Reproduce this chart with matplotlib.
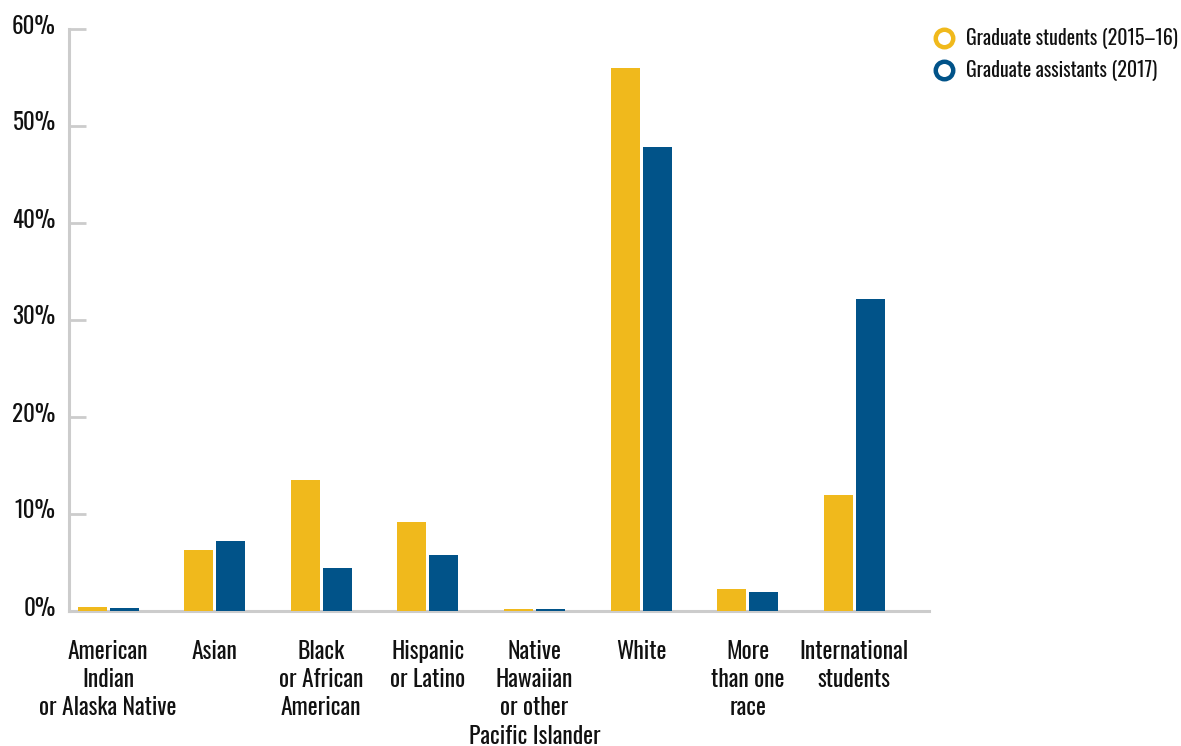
import matplotlib
matplotlib.use("Agg")
import matplotlib.pyplot as plt
from matplotlib.lines import Line2D
from matplotlib.transforms import ScaledTranslation
import numpy as np

# Share of each race/ethnicity group (%)
categories = [
    "American\nIndian\nor Alaska Native",
    "Asian",
    "Black\nor African\nAmerican",
    "Hispanic\nor Latino",
    "Native\nHawaiian\nor other\nPacific Islander",
    "White",
    "More\nthan one\nrace",
    "International\nstudents",
]
graduate_students = [0.4, 6.3, 13.5, 9.2, 0.2, 56.0, 2.3, 12.0]
graduate_assistants = [0.3, 7.2, 4.4, 5.8, 0.2, 47.8, 2.0, 32.2]
series_labels = ["Graduate students (2015\u201316)", "Graduate assistants (2017)"]
y_ticks = [0, 10, 20, 30, 40, 50, 60]
y_tick_labels = ["0%", "10%", "20%", "30%", "40%", "50%", "60%"]

GOLD = "#F0B91C"
NAVY = "#015389"
AXIS_GREY = "#CCCCCC"
TEXT = "#111111"
FONT = ["Oswald", "DejaVu Sans"]

plt.rcParams["font.family"] = FONT

W, H = 1181, 746
fig = plt.figure(figsize=(W / 100, H / 100), dpi=100)
ax = fig.add_axes([69 / W, 1 - 611 / H, (929 - 69) / W, (611 - 29) / H])

x = np.arange(len(categories))
bar_w = 0.272
offset = 0.15
ax.bar(x - offset, graduate_students, width=bar_w, color=GOLD, zorder=2)
ax.bar(x + offset, graduate_assistants, width=bar_w, color=NAVY, zorder=2)

ax.set_xlim(-0.366, 7.70)
ax.set_ylim(0, 60)

for side in ("top", "right"):
    ax.spines[side].set_visible(False)
for side in ("left", "bottom"):
    ax.spines[side].set_color(AXIS_GREY)
    ax.spines[side].set_linewidth(2.2)
    ax.spines[side].set_zorder(1)

ax.set_yticks(y_ticks)
ax.set_yticklabels(y_tick_labels)
ax.tick_params(axis="y", direction="in", length=12.5, width=2.0, color=AXIS_GREY,
               pad=9.5, labelsize=16.5, labelcolor=TEXT)
# percent labels sit slightly above their tick marks
lift = ScaledTranslation(0, 5 / 100, fig.dpi_scale_trans)
for lbl in ax.get_yticklabels():
    lbl.set_transform(lbl.get_transform() + lift)

ax.set_xticks(x)
ax.set_xticklabels(categories, linespacing=1.27)
ax.tick_params(axis="x", length=0, pad=21, labelsize=17, labelcolor=TEXT)

handles = [
    Line2D([], [], linestyle="none", marker="o", markersize=12.6,
           markerfacecolor="white", markeredgecolor=GOLD, markeredgewidth=3.2),
    Line2D([], [], linestyle="none", marker="o", markersize=12.6,
           markerfacecolor="white", markeredgecolor=NAVY, markeredgewidth=3.2),
]
leg = fig.legend(handles, series_labels, loc="upper left",
                 bbox_to_anchor=(933.5 / W, 1 - 28 / H), frameon=False,
                 borderpad=0, borderaxespad=0, handlelength=1.1,
                 handletextpad=0.53, labelspacing=0.56, fontsize=14.3)
for t in leg.get_texts():
    t.set_color(TEXT)

fig.savefig("out.png", dpi=100)
